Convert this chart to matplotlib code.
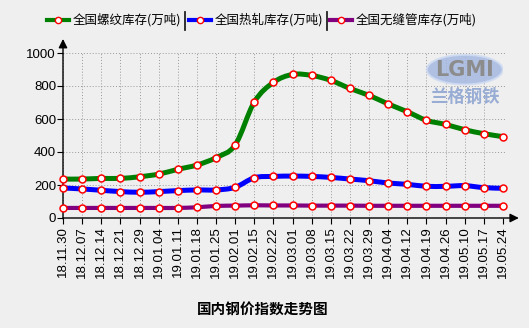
import matplotlib
matplotlib.use("Agg")
import matplotlib.pyplot as plt
import numpy as np
from matplotlib.path import Path
from matplotlib.patches import PathPatch, Ellipse
from matplotlib.lines import Line2D

plt.rcParams['font.family'] = ['Noto Sans CJK SC', 'DejaVu Sans']

dates = ["18.11.30", "18.12.07", "18.12.14", "18.12.21", "18.12.29", "19.01.04",
         "19.01.11", "19.01.18", "19.01.25", "19.02.01", "19.02.15", "19.02.22",
         "19.03.01", "19.03.08", "19.03.15", "19.03.22", "19.03.29", "19.04.04",
         "19.04.12", "19.04.19", "19.04.26", "19.05.10", "19.05.17", "19.05.24"]
rebar = [236, 236, 240, 240, 250, 266, 295, 321, 366, 443, 703, 822,
         870, 864, 834, 785, 743, 691, 644, 592, 567, 535, 511, 493]
hotroll = [182, 176, 168, 160, 156, 160, 166, 170, 170, 186, 244, 252,
           254, 252, 246, 236, 226, 212, 204, 192, 192, 196, 184, 180]
seamless = [61, 61, 61, 61, 61, 61, 61, 65, 73, 75, 77, 76,
            76, 75, 75, 75, 74, 74, 74, 74, 74, 74, 74, 74]
series_names = ["全国螺纹库存(万吨)", "全国热轧库存(万吨)", "全国无缝管库存(万吨)"]
colors = ["#008000", "#0000ff", "#800080"]

W, H = 529, 328
fig = plt.figure(figsize=(W / 100, H / 100), dpi=100)
fig.patch.set_facecolor("#efefef")
ax = fig.add_axes([63 / W, 1 - 218 / H, (503 - 63) / W, (218 - 53) / H])
ax.set_facecolor("#efefef")
x = np.arange(len(dates))


def smooth_path(xs, ys, t=0.5):
    xs = np.asarray(xs, float)
    ys = np.asarray(ys, float)
    n = len(xs)
    verts = [(xs[0], ys[0])]
    codes = [Path.MOVETO]
    for i in range(n - 1):
        x0, y0 = (xs[i - 1], ys[i - 1]) if i > 0 else (xs[i], ys[i])
        x1, y1 = xs[i], ys[i]
        x2, y2 = xs[i + 1], ys[i + 1]
        x3, y3 = (xs[i + 2], ys[i + 2]) if i + 2 < n else (x2, y2)
        c1 = (x1 + (x2 - x0) * t / 3, y1 + (y2 - y0) * t / 3)
        c2 = (x2 - (x3 - x1) * t / 3, y2 - (y3 - y1) * t / 3)
        verts += [c1, c2, (x2, y2)]
        codes += [Path.CURVE4] * 3
    return Path(verts, codes)


ax.set_xlim(0, len(dates) - 1)
ax.set_ylim(0, 1000)

# grid
for xi in x:
    ax.plot([xi, xi], [0, 1000], ls=(0, (1, 2)), color="#999999", lw=0.7, zorder=1)
for yv in range(200, 1001, 200):
    ax.plot([0, len(dates) - 1 + 0.1], [yv, yv], ls=(0, (1, 2)), color="#999999", lw=0.7,
            zorder=1, clip_on=False)

# watermark
ax.add_patch(Ellipse((21.0, 899), 3.97, 180, facecolor="#a4b8e2", edgecolor="#d0dcf2",
                     lw=1.5, alpha=0.85, zorder=1.5))
ax.text(21.0, 899, "LGMI", ha="center", va="center", fontsize=15, color="#8c8c8c",
        family="DejaVu Sans", fontweight="bold", zorder=1.6)
ax.text(21.0, 735, "兰格钢铁", ha="center", va="center", fontsize=12.5, color="#98acd4",
        fontweight="bold", zorder=1.6)

data = [rebar, hotroll, seamless]
lws = [3.6, 3.6, 3.0]
for vals, c, lw in zip(data, colors, lws):
    p = smooth_path(x, vals)
    ax.add_patch(PathPatch(p, facecolor="none", edgecolor=c, lw=lw, zorder=3,
                           capstyle="round", joinstyle="round"))
    ax.plot(x, vals, ls="none", marker="o", ms=5, mfc="white", mec="red", mew=1.1,
            zorder=4, clip_on=False)

for s in ax.spines.values():
    s.set_visible(False)
ax.annotate("", xy=(1.036, 0), xytext=(0, 0), xycoords="axes fraction",
            arrowprops=dict(arrowstyle="-|>", color="black", lw=1, mutation_scale=13,
                            shrinkA=0, shrinkB=0))
ax.annotate("", xy=(0, 1.085), xytext=(0, -0.005), xycoords="axes fraction",
            arrowprops=dict(arrowstyle="-|>", color="black", lw=1, mutation_scale=13,
                            shrinkA=0, shrinkB=0))

ax.set_xticks(x)
ax.set_xticklabels(dates, rotation=90, fontsize=9.5, family="Liberation Sans")
ax.set_yticks(range(0, 1001, 200))
ax.set_yticklabels([str(v) for v in range(0, 1001, 200)], fontsize=9.5,
                   family="Liberation Sans")
ax.tick_params(axis="x", direction="out", length=4, width=0.8, pad=2)
ax.tick_params(axis="y", direction="out", length=4, width=0.8, pad=1)

# legend
leg_x = [47, 189, 330]
for lx, c, name in zip(leg_x, colors, series_names):
    fy = 1 - 20 / H
    fig.add_artist(Line2D([lx / W, (lx + 22) / W], [fy, fy], color=c, lw=3,
                          transform=fig.transFigure))
    fig.add_artist(Line2D([(lx + 11) / W], [fy], marker="o", ms=4.5, mfc="white",
                          mec="red", mew=1, transform=fig.transFigure))
    fig.text((lx + 26) / W, fy, name, ha="left", va="center", fontsize=9, color="black")
for sx in [185, 327]:
    fig.add_artist(Line2D([sx / W, sx / W], [1 - 12 / H, 1 - 30 / H], color="#222222",
                          lw=1.3, transform=fig.transFigure))

fig.text(263 / W, 1 - 309 / H, "国内钢价指数走势图", ha="center", va="center",
         fontsize=10.5, fontweight="bold", color="black")

fig.savefig("out.png", dpi=100, facecolor=fig.get_facecolor())
